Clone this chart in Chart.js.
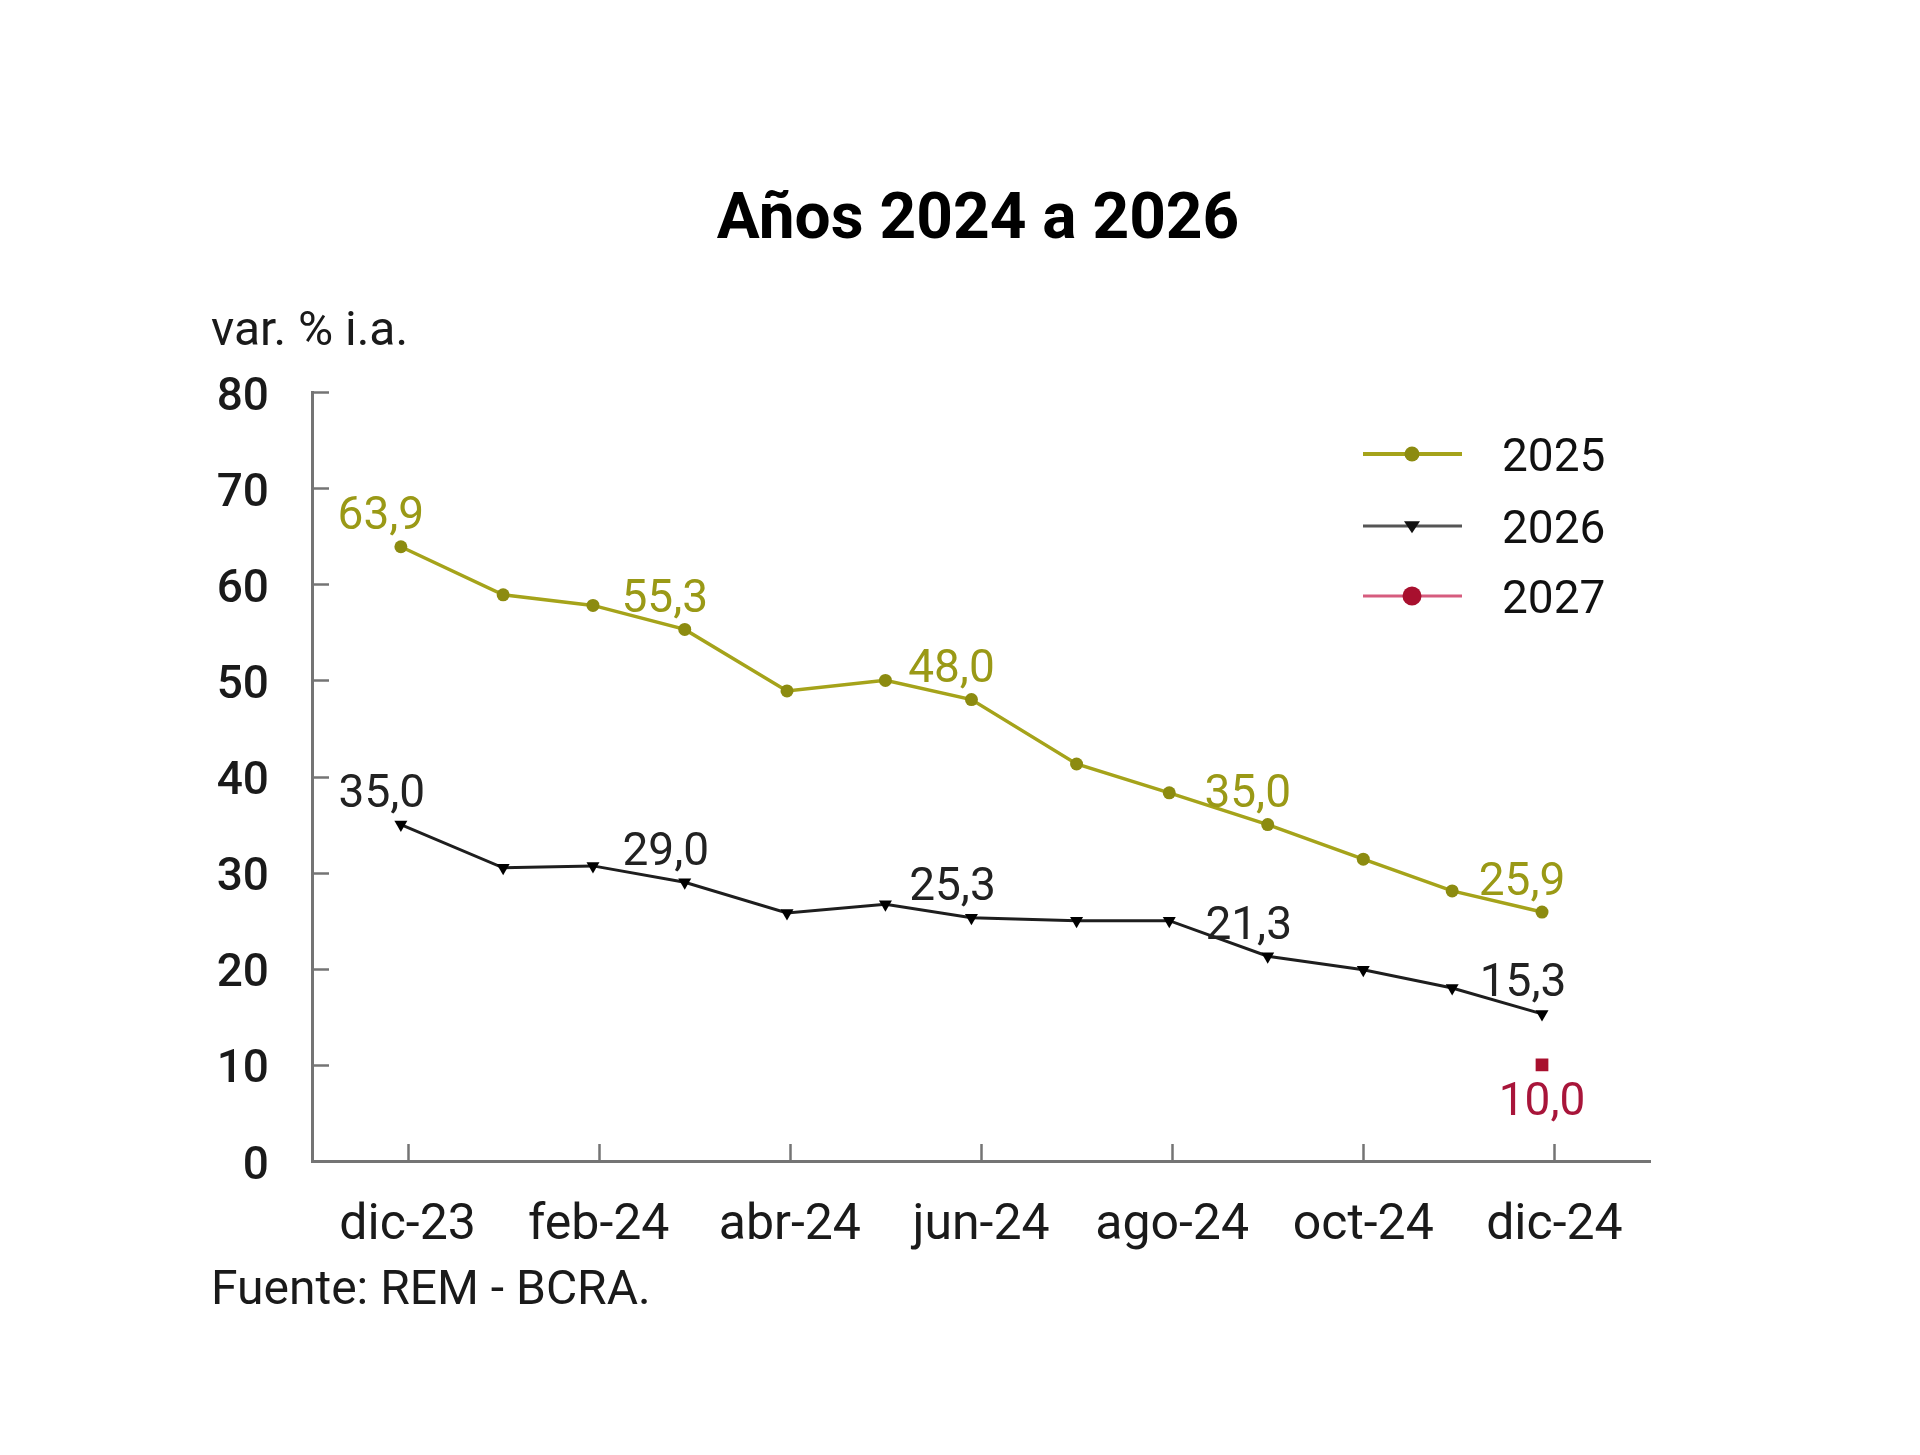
<!DOCTYPE html>
<html><head><meta charset="utf-8">
<script src="https://cdn.jsdelivr.net/npm/chart.js@4.4.1/dist/chart.umd.min.js"></script>
<style>html,body{margin:0;padding:0;background:#fff}#wrap{width:1920px;height:1455px;position:relative;background:#fff}</style>
</head><body><div id="wrap"><canvas id="c" width="1920" height="1455"></canvas></div>
<script>
// ---- data ----
const titleText = 'Años 2024 a 2026';
const yAxisTitle = 'var. % i.a.';
const sourceText = 'Fuente: REM - BCRA.';
const tickMonths = [0, 2, 4, 6, 8, 10, 12];
const tickLabels = ['dic-23', 'feb-24', 'abr-24', 'jun-24', 'ago-24', 'oct-24', 'dic-24'];
const yTicks = [0, 10, 20, 30, 40, 50, 60, 70, 80];
// survey positions in months after dic-23
const surveyPos = [-0.07, 1.0, 1.94, 2.9, 3.97, 5.0, 5.9, 7.0, 7.97, 9.0, 10.0, 10.93, 11.87];
const series2025 = [63.9, 58.9, 57.8, 55.3, 48.9, 50.0, 48.0, 41.3, 38.3, 35.0, 31.4, 28.1, 25.9];
const series2026 = [35.0, 30.5, 30.7, 29.0, 25.8, 26.7, 25.3, 25.0, 25.0, 21.3, 19.9, 18.0, 15.3];
const series2027Pos = [11.87];
const series2027 = [10.0];
const labeled2025 = [0, 3, 6, 9, 12];
const labeled2026 = [0, 3, 6, 9, 12];
const labeled2027 = [0];
const seriesNames = ['2025', '2026', '2027'];

// ---- styles ----
const OLIVE = '#a5a31a', OLIVE_PT = '#8c8b10', OLIVE_TXT = '#9a9916';
const BLACK = '#1e1e1e';
const RED_PT = '#a8102e', RED_LINE = '#d65c7e', RED_TXT = '#a8153a';
const AXIS = '#747474';
const FONT = 'Roboto, "Noto Sans", sans-serif';

const toXY = (xs, ys) => ys.map((v, i) => ({x: xs[i], y: v}));
const fmt = v => v.toFixed(1).replace('.', ',');

const decor = {
  id: 'decor',
  afterDatasetsDraw(chart) {
    const ctx = chart.ctx;
    const specs = [
      {ds: 0, idx: labeled2025, color: OLIVE_TXT, dx: -20, dy: -29},
      {ds: 1, idx: labeled2026, color: '#222', dx: -19, dy: -29},
      {ds: 2, idx: labeled2027, color: RED_TXT, dx: 0, dy: 39}
    ];
    ctx.save();
    ctx.font = '46px ' + FONT;
    ctx.textAlign = 'center';
    ctx.textBaseline = 'middle';
    specs.forEach(s => {
      const meta = chart.getDatasetMeta(s.ds);
      const data = chart.data.datasets[s.ds].data;
      s.idx.forEach(i => {
        const el = meta.data[i];
        ctx.fillStyle = s.color;
        ctx.fillText(fmt(data[i].y), el.x + s.dx, el.y + s.dy);
      });
    });
    ctx.restore();
  },
  afterDraw(chart) {
    const ctx = chart.ctx;
    const area = chart.chartArea;
    const xs = chart.scales.x, ys = chart.scales.y;
    ctx.save();
    // inward tick marks
    ctx.strokeStyle = AXIS;
    ctx.lineWidth = 2.5;
    yTicks.forEach(v => {
      if (v === 0) return;
      const y = Math.round(ys.getPixelForValue(v)) + 0.5;
      ctx.beginPath(); ctx.moveTo(area.left, y); ctx.lineTo(area.left + 17, y); ctx.stroke();
    });
    tickMonths.forEach(m => {
      const x = Math.round(xs.getPixelForValue(m)) + 0.5;
      ctx.beginPath(); ctx.moveTo(x, area.bottom); ctx.lineTo(x, area.bottom - 17); ctx.stroke();
    });
    // title
    ctx.fillStyle = '#000';
    ctx.font = 'bold 64px ' + FONT;
    ctx.textAlign = 'center';
    ctx.textBaseline = 'alphabetic';
    ctx.fillText(titleText, 978, 238);
    // axis unit
    ctx.fillStyle = '#1a1a1a';
    ctx.font = '48px ' + FONT;
    ctx.textAlign = 'left';
    ctx.fillText(yAxisTitle, 211, 345);
    // source
    ctx.fillText(sourceText, 211, 1304);
    // legend
    const rows = [
      {y: 454, line: OLIVE, lw: 4, mk: 'circle', mc: OLIVE_PT, r: 7.5},
      {y: 526, line: '#555', lw: 3, mk: 'tri', mc: '#111', r: 8},
      {y: 596, line: RED_LINE, lw: 3, mk: 'circle', mc: RED_PT, r: 9.5}
    ];
    rows.forEach((r, i) => {
      ctx.strokeStyle = r.line; ctx.lineWidth = r.lw;
      ctx.beginPath(); ctx.moveTo(1363, r.y); ctx.lineTo(1462, r.y); ctx.stroke();
      ctx.fillStyle = r.mc;
      ctx.beginPath();
      if (r.mk === 'circle') {
        ctx.arc(1412, r.y, r.r, 0, Math.PI * 2);
      } else {
        ctx.moveTo(1412 - r.r, r.y - r.r * 0.6);
        ctx.lineTo(1412 + r.r, r.y - r.r * 0.6);
        ctx.lineTo(1412, r.y + r.r * 0.9);
        ctx.closePath();
      }
      ctx.fill();
      ctx.fillStyle = '#111';
      ctx.font = '46px ' + FONT;
      ctx.textAlign = 'left';
      ctx.textBaseline = 'middle';
      ctx.fillText(seriesNames[i], 1502, r.y + 5);
    });
    ctx.restore();
  }
};

new Chart(document.getElementById('c'), {
  type: 'line',
  data: {
    datasets: [
      {
        label: seriesNames[0], data: toXY(surveyPos, series2025),
        borderColor: OLIVE, borderWidth: 3.5, tension: 0,
        pointStyle: 'circle', pointRadius: 6.5, pointBackgroundColor: OLIVE_PT, pointBorderColor: OLIVE_PT, pointBorderWidth: 0
      },
      {
        label: seriesNames[1], data: toXY(surveyPos, series2026),
        borderColor: BLACK, borderWidth: 3, tension: 0,
        pointStyle: 'triangle', rotation: 180, pointRadius: 7.5, pointBackgroundColor: '#000', pointBorderColor: '#000', pointBorderWidth: 0
      },
      {
        label: seriesNames[2], data: toXY(series2027Pos, series2027),
        borderColor: RED_LINE, borderWidth: 3, showLine: false,
        pointStyle: 'rect', pointRadius: 9, pointBackgroundColor: RED_PT, pointBorderColor: RED_PT, pointBorderWidth: 0
      }
    ]
  },
  options: {
    responsive: false,
    animation: false,
    devicePixelRatio: 1,
    layout: {padding: {top: 392, left: 0, right: 270, bottom: 0}},
    plugins: {legend: {display: false}, tooltip: {enabled: false}, title: {display: false}},
    scales: {
      x: {
        type: 'linear', min: -1, max: 13,
        afterBuildTicks: s => { s.ticks = tickMonths.map(v => ({value: v})); },
        afterFit: s => { s.height = 294; },
        grid: {display: false, drawTicks: false},
        border: {display: true, color: AXIS, width: 3},
        ticks: {
          autoSkip: false, maxRotation: 0, padding: 35,
          font: {family: FONT, size: 50}, color: '#1a1a1a',
          callback: v => { const k = tickMonths.indexOf(v); return k >= 0 ? tickLabels[k] : ''; }
        }
      },
      y: {
        type: 'linear', min: 0, max: 80,
        afterBuildTicks: s => { s.ticks = yTicks.map(v => ({value: v})); },
        afterFit: s => { s.width = 312; },
        grid: {display: false, drawTicks: false},
        border: {display: true, color: AXIS, width: 3},
        ticks: {padding: 43, labelOffset: 6, font: {family: FONT, size: 46, weight: '500'}, color: '#1a1a1a'}
      }
    }
  },
  plugins: [decor]
});
</script>
</body></html>
